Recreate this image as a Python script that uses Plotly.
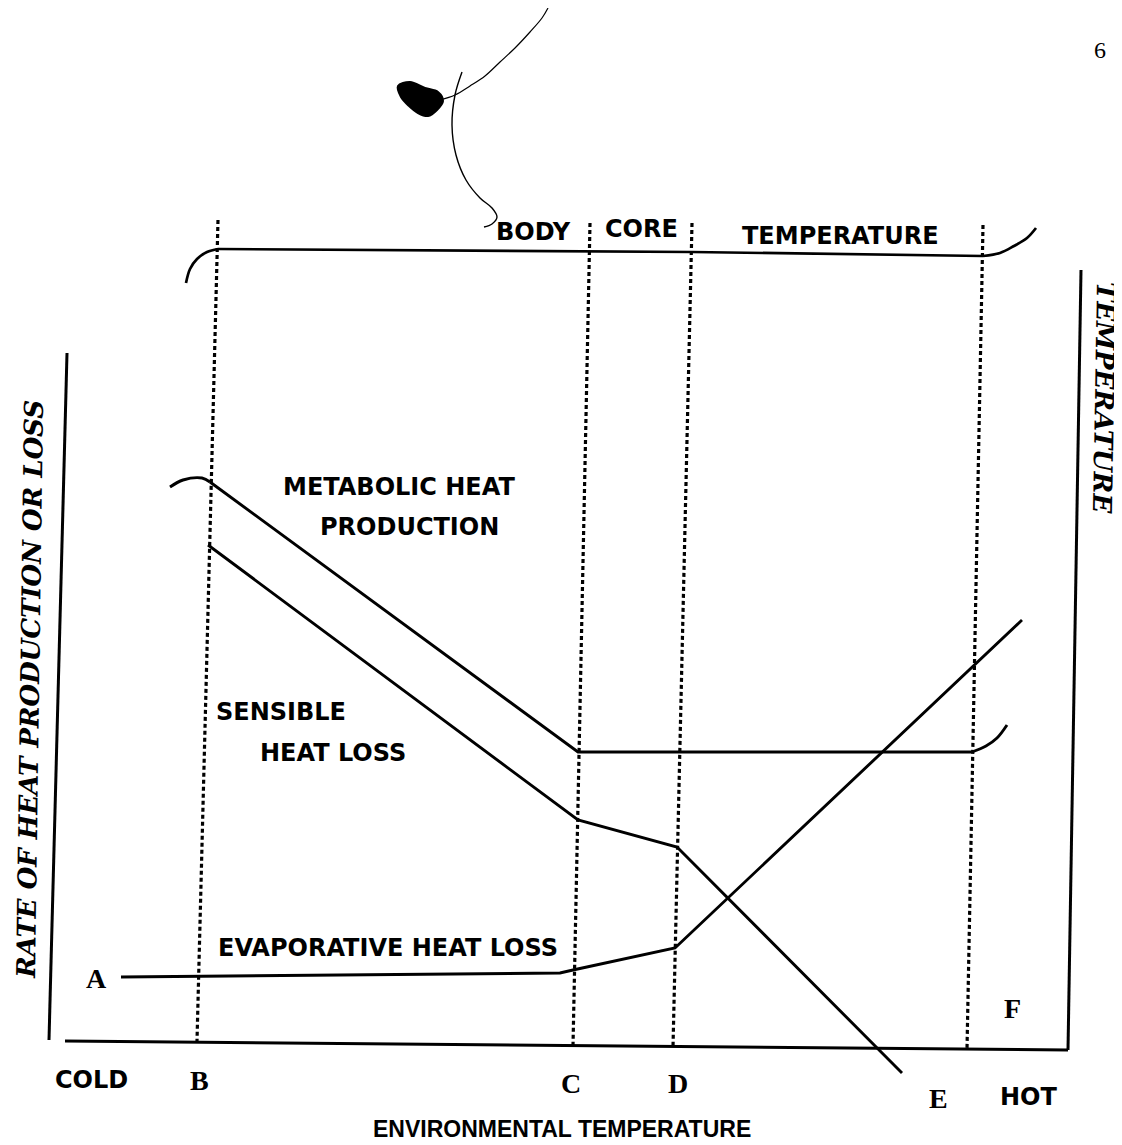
import plotly.graph_objects as go

W, H = 1122, 1145
PAGE_OFFSET = 8  # default body margin of the html page

# ---- Frame of the diagram (positions, page units) ----
left_axis_x = [67, 49]
left_axis_y = [353, 1040]
bottom_axis_x = [65, 1068]
bottom_axis_y = [1041, 1050]
right_axis_x = [1068, 1081]
right_axis_y = [1050, 270]

# ---- Dotted zone boundaries B, C, D and E/F ----
guide_names = ["B", "C", "D", "EF"]
guide_top_x = [218, 590, 692, 983]
guide_top_y = [220, 223, 223, 225]
guide_bot_x = [197, 573, 673, 967]
guide_bot_y = [1041, 1046, 1047, 1049]

# ---- Body core temperature curve ----
core_curl_left_x = [186, 190, 197, 207, 218]
core_curl_left_y = [283, 269, 259, 252, 249]
core_x = [218, 590, 692, 983]
core_y = [249, 251, 252, 256]
core_curl_right_x = [983, 1000, 1014, 1027, 1036]
core_curl_right_y = [256, 253, 246, 238, 228]

# ---- Metabolic heat production ----
metab_curl_x = [170, 183, 202, 210]
metab_curl_y = [487, 480, 478, 482]
metab_x = [210, 578, 972]
metab_y = [482, 752, 752]
metab_curl_right_x = [972, 986, 997, 1007]
metab_curl_right_y = [752, 746, 738, 725]

# ---- Sensible heat loss ----
sensible_x = [208, 578, 677, 902]
sensible_y = [545, 820, 847, 1073]

# ---- Evaporative heat loss ----
evap_x = [121, 560, 573, 675, 1022]
evap_y = [977, 973, 970, 948, 620]

# ---- Scan artefacts (blot and pen stroke at the top) ----
blot_x = [398, 410, 425, 438, 443, 437, 428, 418, 409, 401, 398]
blot_y = [86, 82, 88, 92, 101, 110, 116, 113, 106, 97, 86]
stroke_x = [440, 455, 470, 485, 500, 515, 530, 542, 548]
stroke_y = [100, 95, 86, 76, 62, 48, 32, 18, 8]
loop_x = [462, 455, 452, 456, 466, 480, 492, 497, 492, 484]
loop_y = [72, 95, 125, 155, 180, 198, 208, 217, 224, 227]

# ---- Labels ----
sans_labels = ["BODY", "CORE", "TEMPERATURE", "METABOLIC HEAT", "PRODUCTION",
               "SENSIBLE", "HEAT LOSS", "EVAPORATIVE HEAT LOSS", "COLD", "HOT"]
sans_x = [533, 641, 840, 399, 409, 281, 333, 388, 91, 1028]
sans_y = [232, 229, 236, 487, 527, 712, 753, 948, 1080, 1097]

bottom_title = "ENVIRONMENTAL TEMPERATURE"
bottom_title_xy = (562, 1129)

serif_labels = ["A", "B", "C", "D", "E", "F"]
serif_x = [96, 199, 571, 678, 938, 1012]
serif_y = [978, 1080, 1083, 1083, 1098, 1008]

y_title = "RATE OF HEAT PRODUCTION OR LOSS"
y_title_xy = (30, 690)
y2_title = "TEMPERATURE"
y2_title_xy = (1104, 398)
page_number = "6"
page_number_xy = (1100, 50)

fig = go.Figure()

def line(xs, ys, width=2.9, dash="solid", shape="linear"):
    fig.add_trace(go.Scatter(x=xs, y=ys, mode="lines",
                             line=dict(color="black", width=width, dash=dash, shape=shape),
                             hoverinfo="skip", showlegend=False))

line(left_axis_x, left_axis_y, 3)
line(bottom_axis_x, bottom_axis_y, 3)
line(right_axis_x, right_axis_y, 3)

for i in range(len(guide_names)):
    line([guide_top_x[i], guide_bot_x[i]], [guide_top_y[i], guide_bot_y[i]],
         3.2, dash="4px,3px")

line(core_curl_left_x, core_curl_left_y, 2.7, shape="spline")
line(core_x, core_y, 2.7)
line(core_curl_right_x, core_curl_right_y, 2.7, shape="spline")

line(metab_curl_x, metab_curl_y, 2.9, shape="spline")
line(metab_x, metab_y, 2.9)
line(metab_curl_right_x, metab_curl_right_y, 2.9, shape="spline")

line(sensible_x, sensible_y, 2.9)
line(evap_x, evap_y, 2.9)

# artefacts
fig.add_trace(go.Scatter(x=blot_x, y=blot_y, mode="lines", fill="toself",
                         fillcolor="black", line=dict(color="black", width=2, shape="spline"),
                         hoverinfo="skip", showlegend=False))
line(stroke_x, stroke_y, 1.2, shape="spline")
line(loop_x, loop_y, 1.4, shape="spline")

ann = []
for t, x, y in zip(sans_labels, sans_x, sans_y):
    ann.append(dict(x=x, y=y, text="<b>" + t + "</b>", showarrow=False,
                    xanchor="center", yanchor="middle",
                    font=dict(family="DejaVu Sans", size=24, color="black")))
ann.append(dict(x=bottom_title_xy[0], y=bottom_title_xy[1], text="<b>" + bottom_title + "</b>",
                showarrow=False, xanchor="center", yanchor="middle",
                font=dict(family="Liberation Sans", size=23, color="black")))
for t, x, y in zip(serif_labels, serif_x, serif_y):
    ann.append(dict(x=x, y=y, text="<b>" + t + "</b>", showarrow=False,
                    xanchor="center", yanchor="middle",
                    font=dict(family="Liberation Serif", size=28, color="black")))
ann.append(dict(x=y_title_xy[0], y=y_title_xy[1], text="<b><i>" + y_title + "</i></b>",
                showarrow=False, textangle=-89.2, xanchor="center", yanchor="middle",
                font=dict(family="DejaVu Serif", size=26, color="black")))
ann.append(dict(x=y2_title_xy[0], y=y2_title_xy[1], text="<b><i>" + y2_title + "</i></b>",
                showarrow=False, textangle=91, xanchor="center", yanchor="middle",
                font=dict(family="DejaVu Serif", size=26, color="black")))
ann.append(dict(x=page_number_xy[0], y=page_number_xy[1], text=page_number, showarrow=False,
                xanchor="center", yanchor="middle",
                font=dict(family="Liberation Serif", size=24, color="black")))

fig.update_layout(
    width=W, height=H,
    margin=dict(l=0, r=0, t=0, b=0),
    paper_bgcolor="white", plot_bgcolor="white",
    xaxis=dict(range=[PAGE_OFFSET, W + PAGE_OFFSET], visible=False, fixedrange=True),
    yaxis=dict(range=[H + PAGE_OFFSET, PAGE_OFFSET], visible=False, fixedrange=True),
    annotations=ann,
    hovermode=False,
)

fig.write_html("out.html")
